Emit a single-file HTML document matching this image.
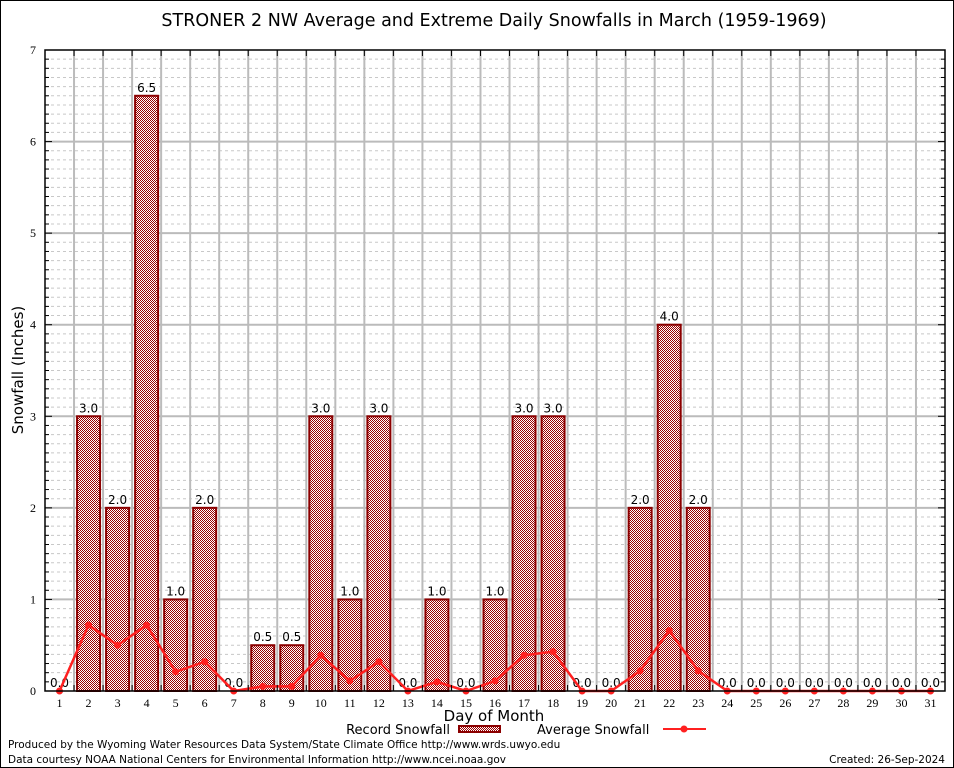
<!DOCTYPE html>
<html><head><meta charset="utf-8"><style>
html,body{margin:0;padding:0;background:#fff}
svg{display:block}
text{font-family:"DejaVu Sans","Liberation Sans",sans-serif}
.tick{font-family:"Liberation Serif",serif;font-size:12px}
</style></head><body>
<svg id="chart" width="954" height="768" xmlns="http://www.w3.org/2000/svg">
<defs>
<pattern id="hatch" width="2" height="2" patternUnits="userSpaceOnUse">
<rect width="2" height="2" fill="#fff"/>
<rect width="1" height="1" fill="#9a0000"/>
<rect x="1" y="1" width="1" height="1" fill="#9a0000"/>
</pattern>
</defs>
<rect x="0.5" y="0.5" width="953" height="767" fill="#fff" stroke="#000"/>
<text x="494" y="26" text-anchor="middle" font-size="17.5">STRONER 2 NW Average and Extreme Daily Snowfalls in March (1959-1969)</text>
<g id="grid"></g>
<g id="bars"></g>
<g id="line"></g>
<g id="axes"></g>
<text transform="translate(23,370) rotate(-90)" text-anchor="middle" font-size="15">Snowfall (Inches)</text>
<text x="494" y="721" text-anchor="middle" font-size="15">Day of Month</text>
<g>
<text x="450" y="734" text-anchor="end" font-size="13">Record Snowfall</text>
<rect x="459" y="726" width="41" height="6" fill="url(#hatch)" stroke="#8b0000" stroke-width="2"/>
</g>
<g>
<text x="537" y="734" font-size="13">Average Snowfall</text>
<line x1="663" y1="729" x2="706" y2="729" stroke="#ff2020" stroke-width="2"/>
<circle cx="684" cy="729" r="3.5" fill="#ff2020"/>
</g>
<text x="8" y="748" font-size="10.5">Produced by the Wyoming Water Resources Data System/State Climate Office http://www.wrds.uwyo.edu</text>
<text x="8" y="763" font-size="10.5">Data courtesy NOAA National Centers for Environmental Information http://www.ncei.noaa.gov</text>
<text x="945" y="763" text-anchor="end" font-size="10.5">Created: 26-Sep-2024</text>
</svg>
<script>
const days = [1,2,3,4,5,6,7,8,9,10,11,12,13,14,15,16,17,18,19,20,21,22,23,24,25,26,27,28,29,30,31];
const recordSnow = [0,3,2,6.5,1,2,0,0.5,0.5,3,1,3,0,1,0,1,3,3,0,0,2,4,2,0,0,0,0,0,0,0,0];
const avgSnow = [0,0.72,0.5,0.72,0.21,0.32,0,0.05,0.05,0.39,0.11,0.32,0,0.1,0,0.11,0.39,0.43,0,0,0.22,0.66,0.22,0,0,0,0,0,0,0,0];
const yTicks = [0,1,2,3,4,5,6,7];
const NS="http://www.w3.org/2000/svg";
const L=45,R=945,T=50,B=691,yMax=7;
const step=(R-L)/days.length;
const xs=d=>L+(d-0.5)*step;
const ys=v=>B-v/yMax*(B-T);
function mk(p,tag,a){const e=document.createElementNS(NS,tag);for(const k in a)e.setAttribute(k,a[k]);p.appendChild(e);return e;}
const grid=document.getElementById('grid'),bars=document.getElementById('bars'),line=document.getElementById('line'),axes=document.getElementById('axes');
for(let i=1;i<yMax*10;i++){if(i%10===0)continue;const y=ys(i/10);
 const g=mk(grid,'line',{x1:L,x2:R,y1:y,y2:y,stroke:'#c8c8c8','stroke-dasharray':'3,3'});
 
 }
yTicks.forEach(t=>{if(t===0||t===yMax)return;const y=ys(t);
 const g=mk(grid,'line',{x1:L,x2:R,y1:y,y2:y,stroke:'#bbb','stroke-width':2});
 
 });
for(let i=1;i<days.length;i++){const x=L+i*step;
 const g=mk(grid,'line',{x1:x,x2:x,y1:T,y2:B,stroke:'#bbb','stroke-width':2});
 
 
 mk(axes,'line',{x1:x,x2:x,y1:T,y2:T+6,stroke:'#000'});
 mk(axes,'line',{x1:x,x2:x,y1:B,y2:B-6,stroke:'#000'});}
days.forEach((d,i)=>{const v=recordSnow[i];const x=xs(d);
 if(v>0){const r=mk(bars,'rect',{x:x-11.5,y:ys(v),width:23,height:B-ys(v),fill:'url(#hatch)',stroke:'#8b0000','stroke-width':2});
  
  }
 const t=mk(bars,'text',{x:x,y:ys(v)-4,'text-anchor':'middle','font-size':12});
 t.textContent=v.toFixed(1);
 
 
 const xl=mk(axes,'text',{x:x,y:B+16,'text-anchor':'middle',class:'tick'});
 xl.textContent=d;
 
 });
const pl=mk(line,'polyline',{points:days.map((d,i)=>xs(d)+','+ys(avgSnow[i])).join(' '),fill:'none',stroke:'#ff2020','stroke-width':2.5});


days.forEach((d,i)=>{const c=mk(line,'circle',{cx:xs(d),cy:ys(avgSnow[i]),r:3.5,fill:'#ff2020'});
 
 });
const fr=mk(axes,'rect',{x:L,y:T,width:R-L,height:B-T,fill:'none',stroke:'#000','stroke-width':1.5});


for(let i=1;i<yMax*10;i++){const y=ys(i/10);const len=i%10===0?7:4;
 mk(axes,'line',{x1:L,x2:L+len,y1:y,y2:y,stroke:'#000'});
 mk(axes,'line',{x1:R,x2:R-len,y1:y,y2:y,stroke:'#000'});}
yTicks.forEach(t=>{const yl=mk(axes,'text',{x:L-9,y:ys(t)+4,'text-anchor':'end',class:'tick'});
 yl.textContent=t;
 
 });
</script>
</body></html>
